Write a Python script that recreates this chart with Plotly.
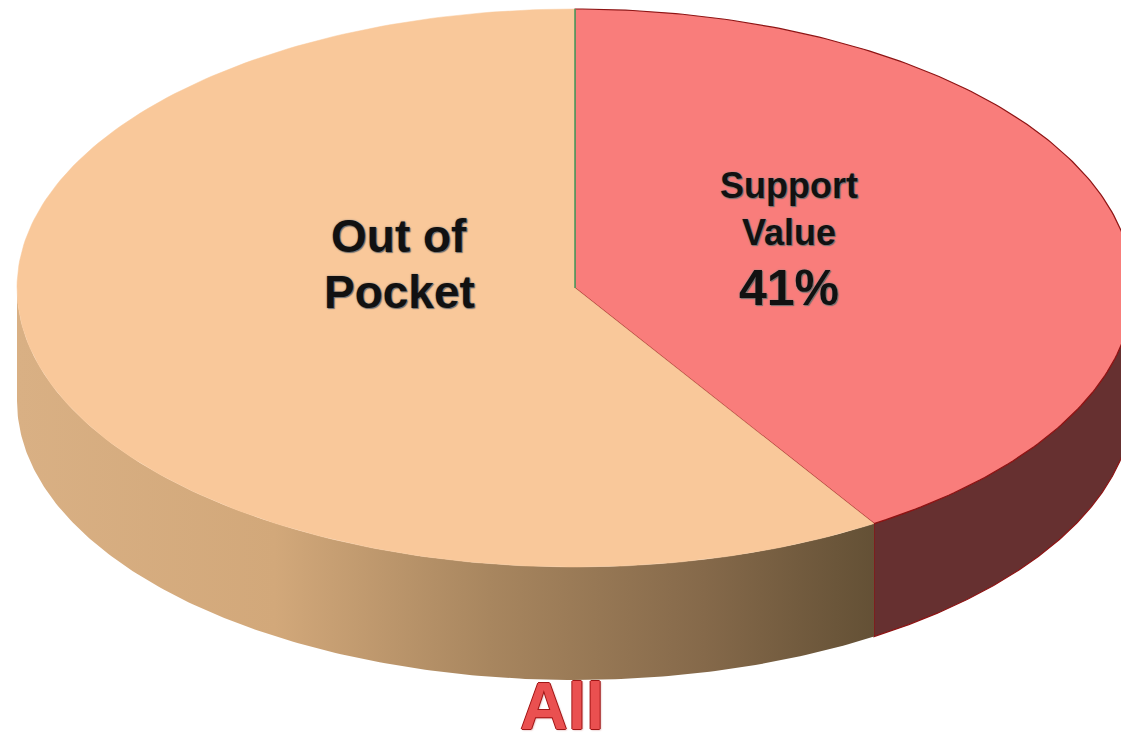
import numpy as np
import plotly.graph_objects as go

# ---------------- data ----------------
categories = ["Support Value", "Out of Pocket"]
values = [41, 59]
label_lines = [["Support", "Value", "41%"], ["Out of", "Pocket"]]
chart_title = "All"

# ---------------- styling ----------------
top_colors = ["#F97D7B", "#F9C89A"]
side_support = "#663030"
edge_red = "#8E1414"
side_scale = [[0.0, "#D9B084"], [0.3, "#D2A87A"], [0.55, "#A8865F"], [0.8, "#85694A"], [1.0, "#635035"]]
CX, CY, RX, RY, DEPTH = 575, 288, 558, 279, 113
FONT = "Liberation Sans, Arial, sans-serif"


def arc(t0, t1, n=200):
    t = np.radians(np.linspace(t0, t1, n))
    return CX + RX * np.sin(t), CY - RY * np.cos(t)


total = float(sum(values))
bounds = np.concatenate([[0.0], np.cumsum(values) / total * 360.0])

fig = go.Figure()

# side walls (visible front half: 90..270 deg clockwise from 12 o'clock)
for i, cat in enumerate(categories):
    a0, a1 = max(bounds[i], 90.0), min(bounds[i + 1], 270.0)
    if a1 <= a0:
        continue
    xs, ys = arc(a0, a1)
    px = np.concatenate([xs, xs[::-1], [xs[0]]])
    py = np.concatenate([ys, ys[::-1] + DEPTH, [ys[0]]])
    if i == 0:
        fig.add_trace(go.Scatter(x=px, y=py, mode="lines", fill="toself",
                                 fillcolor=side_support,
                                 line=dict(color=edge_red, width=1.2),
                                 hoverinfo="skip", showlegend=False))
    else:
        fig.add_trace(go.Scatter(x=px, y=py, mode="lines", fill="toself",
                                 fillgradient=dict(type="horizontal", colorscale=side_scale,
                                                   start=CX - RX, stop=CX + RX * 0.54),
                                 line=dict(width=0),
                                 hoverinfo="skip", showlegend=False))

# top faces
for i, cat in enumerate(categories):
    xs, ys = arc(bounds[i], bounds[i + 1])
    px = np.concatenate([[CX], xs, [CX]])
    py = np.concatenate([[CY], ys, [CY]])
    fig.add_trace(go.Scatter(x=px, y=py, mode="lines", fill="toself",
                             fillcolor=top_colors[i],
                             line=dict(color=edge_red if i == 0 else top_colors[i],
                                       width=1.2 if i == 0 else 0.5),
                             hoverinfo="skip", showlegend=False, name=cat))

# thin green divider at 12 o'clock
gx, gy = arc(0, 0, 2)
fig.add_trace(go.Scatter(x=[CX, gx[0]], y=[CY, gy[0]], mode="lines",
                         line=dict(color="#4F9A5F", width=1.6),
                         hoverinfo="skip", showlegend=False))

shadow_txt = "0px 0px 2px #8a8a8a, 1px 1px 1px #666"
ann = []
# Support Value label
for txt, y, size in zip(label_lines[0], [185, 232, 288], [36, 36, 50]):
    ann.append(dict(x=789, y=y, text=txt, showarrow=False, xanchor="center", yanchor="middle",
                    font=dict(family=FONT, size=size, color="#111", weight="bold", shadow=shadow_txt)))
# Out of Pocket label
for txt, y in zip(label_lines[1], [236, 292]):
    ann.append(dict(x=399, y=y, text=txt, showarrow=False, xanchor="center", yanchor="middle",
                    font=dict(family=FONT, size=46, color="#111", weight="bold", shadow=shadow_txt)))
# title
ann.append(dict(x=562, y=706, text=chart_title, showarrow=False, xanchor="center", yanchor="middle",
                font=dict(family=FONT, size=66, color="#EA5050", weight="bold",
                          shadow="-1px 0 #A01515, 1px 0 #A01515, 0 -1px #A01515, 0 1px #A01515, 1px 1px 2px #c88")))

fig.update_layout(
    width=1121, height=744,
    margin=dict(l=0, r=0, t=0, b=0),
    paper_bgcolor="white", plot_bgcolor="white",
    xaxis=dict(range=[0, 1121], visible=False, fixedrange=True),
    yaxis=dict(range=[744, 0], visible=False, fixedrange=True),
    annotations=ann,
    showlegend=False,
)

fig.write_html("out.html", config={"displayModeBar": False},
               post_script="document.body.style.margin='0';document.body.style.overflow='hidden';")
